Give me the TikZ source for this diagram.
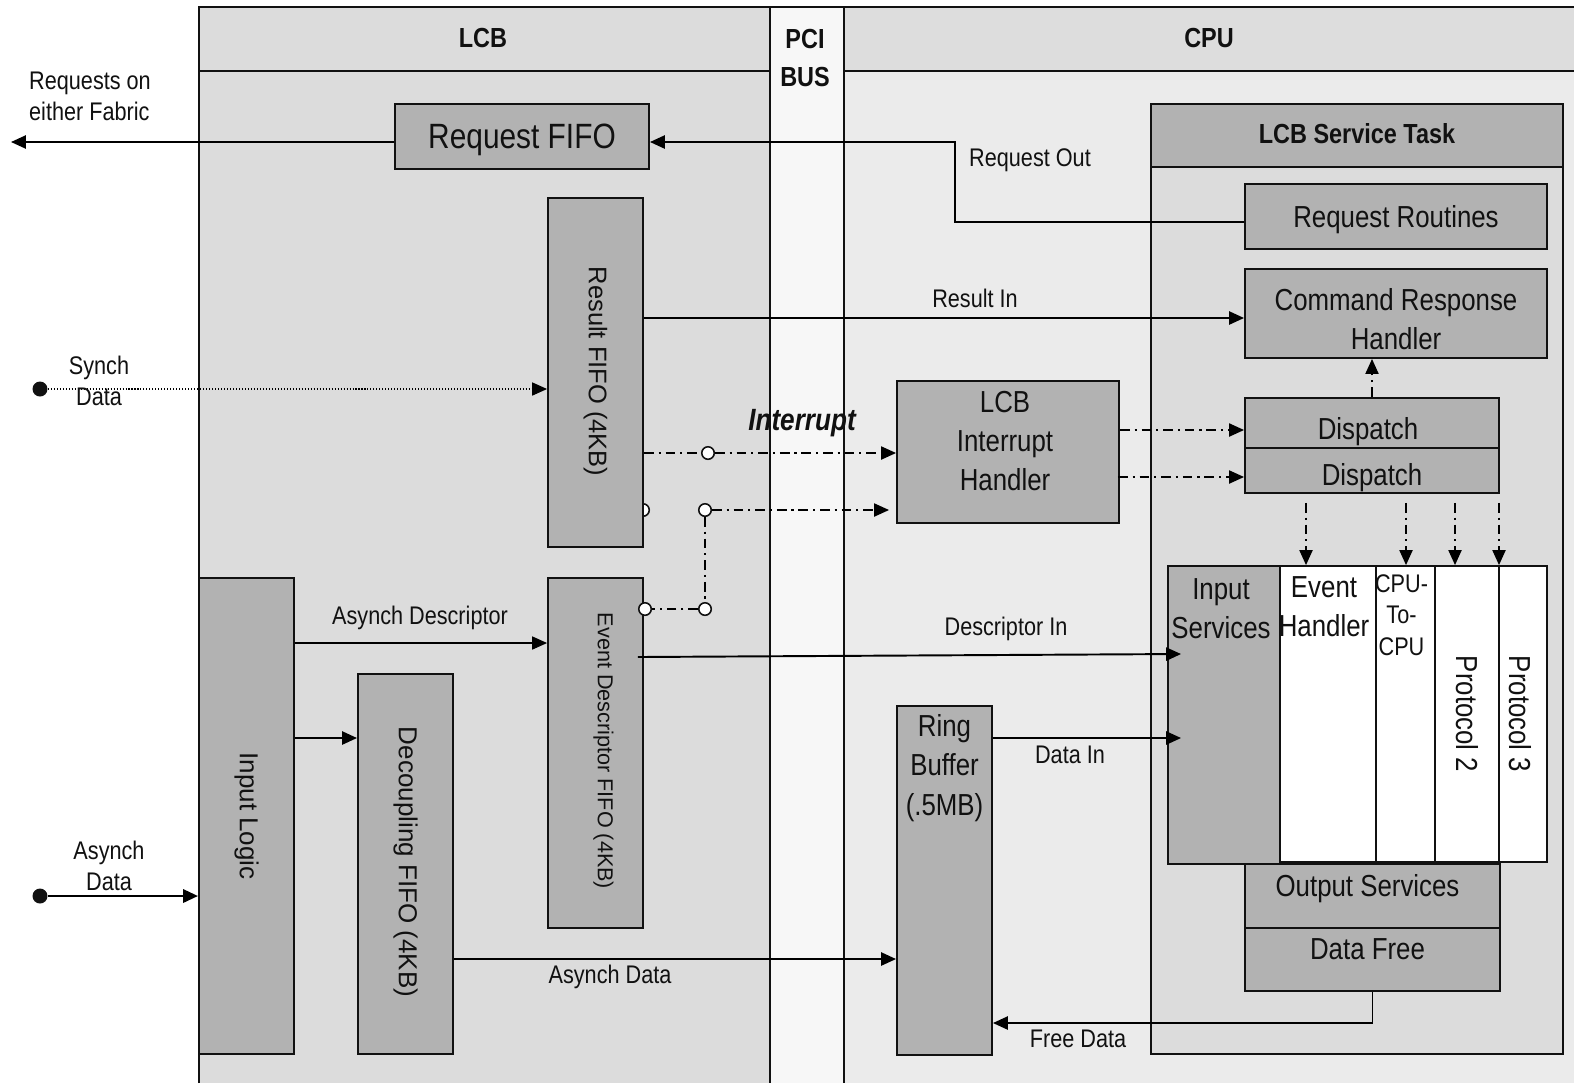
\documentclass[tikz,border=0pt]{standalone}
\usepackage{fontspec}
\setmainfont{Liberation Sans}[FakeStretch=0.85]
\newfontfamily\widefont{Liberation Sans}
\usetikzlibrary{arrows.meta,fit,calc}
\definecolor{boxgray}{HTML}{B2B2B2}
\definecolor{lcbfill}{HTML}{DCDCDC}
\definecolor{hdrfill}{HTML}{DDDDDD}
\definecolor{cpufill}{HTML}{EBEBEB}
\definecolor{pcifill}{HTML}{F7F7F7}
\definecolor{inkc}{HTML}{111111}
\begin{document}
\begin{tikzpicture}[x=0.02cm,y=-0.02cm,
  gbox/.style={draw=inkc, line width=1.1pt, fill=boxgray, inner sep=0pt},
  wbox/.style={draw=inkc, line width=1.1pt, fill=white, inner sep=0pt},
  tip/.style={-{Triangle[length=8.5pt,width=7.5pt]}},
  conn/.style={line width=1.1pt, tip},
  thinconn/.style={line width=0.6pt, tip},
  ddot/.style={line width=0.8pt, dash pattern=on 5.5pt off 2.8pt on 1.2pt off 2.8pt},
  dotline/.style={line width=0.6pt, dash pattern=on 0.6pt off 1.1pt},
  lbl/.style={font=\fontsize{14.5}{17.8}\selectfont, inner sep=0pt, align=center, text=inkc},
  btxt/.style={font=\fontsize{17.3}{22.3}\selectfont, inner sep=0pt, align=center, text=inkc},
  hdr/.style={font=\bfseries\fontsize{15.7}{21.5}\selectfont, inner sep=0pt, align=center, text=inkc},
  vtxt/.style={rotate=-90, inner sep=0pt, text=inkc},
  hole/.style={circle, draw=inkc, fill=white, line width=0.9pt, minimum size=0.25cm, inner sep=0pt},
  dotn/.style={circle, fill=inkc, minimum size=0.3cm, inner sep=0pt},
  frame/.style={line width=0.8pt, draw=inkc}
]
\useasboundingbox (0,0) rectangle (1574,1083);
\fill[white] (0,0) rectangle (1574,1083);
% columns
\fill[lcbfill] (199,7) rectangle (770,1083);
\fill[pcifill] (770,7) rectangle (844,1083);
\fill[cpufill] (844,7) rectangle (1574,1083);
\fill[hdrfill] (844,7) rectangle (1574,71);
\draw[frame] (199,1083) -- (199,7) -- (1574,7);
\draw[frame] (770,7) -- (770,1083);
\draw[frame] (844,7) -- (844,1083);
\draw[frame] (199,71) -- (770,71);
\draw[frame] (844,71) -- (1574,71);
\node[hdr] (hlcb) at (483,38) {LCB};
\node[hdr] (hpci) at (805,58) {PCI\\BUS};
\node[hdr] (hcpu) at (1209,38) {CPU};

% LCB Service Task
\node[draw=inkc, line width=1.1pt, fill=lcbfill, inner sep=0pt, fit={(1151,104) (1563,1054)}] (lst) {};
\node[draw=inkc, line width=1.1pt, fill=boxgray, inner sep=0pt, fit={(1151,104) (1563,167)}] (lsthdr) {};
\node[hdr] (lsttxt) at ($(lsthdr.center)+(0,-2)$) {LCB Service Task};

% outside labels
\node[lbl, align=left] (fabtxt) at (90,96) {Requests on\\either Fabric};

% LCB side boxes
\node[gbox, fit={(395,104) (649,169)}] (reqfifo) {};
\node[font=\fontsize{20}{24}\selectfont, inner sep=0pt, text=inkc] (reqfifotxt) at ($(reqfifo.center)+(0,3)$) {Request FIFO};

\node[hole] (h2) at (643,510) {};
\node[gbox, fit={(548,198) (643,547)}] (resfifo) {};
\node[vtxt, font=\widefont\fontsize{14.5}{17}\selectfont] (resfifotxt) at ($(resfifo.center)+(0,-1)$) {Result FIFO (4KB)};

\node[gbox, fit={(199,578) (294,1054)}] (inlogic) {};
\node[vtxt, font=\widefont\fontsize{14.8}{17}\selectfont] (inlogictxt) at (inlogic.center) {Input Logic};

\node[gbox, fit={(358,674) (453,1054)}] (decfifo) {};
\node[vtxt, font=\widefont\fontsize{14.8}{17}\selectfont] (decfifotxt) at ($(decfifo.center)+(0,-2)$) {Decoupling FIFO (4KB)};

\node[gbox, fit={(548,578) (643,928)}] (evfifo) {};
\node[vtxt, font=\widefont\fontsize{12.3}{15}\selectfont] (evfifotxt) at ($(evfifo.center)+(8,-2)$) {Event Descriptor FIFO (4KB)};

% CPU side boxes
\node[gbox, fit={(897,381) (1119,523)}] (ih) {};
\node[btxt] (ihtxt) at ($(ih.center)+(-3,-11)$) {LCB\\Interrupt\\Handler};

\node[gbox, fit={(897,706) (992,1055)}] (ring) {};
\node[btxt] (ringtxt) at ($(ring.north)+(0,63)$) {Ring\\Buffer\\(.5MB)};

\node[gbox, fit={(1245,184) (1547,249)}] (rr) {};
\node[btxt] (rrtxt) at ($(rr.center)+(0,3)$) {Request Routines};

\node[gbox, fit={(1245,269) (1547,358)}] (crh) {};
\node[btxt] (crhtxt) at ($(crh.center)+(0,6)$) {Command Response\\Handler};

\node[gbox, fit={(1245,398) (1499,448)}] (disp1) {};
\node[btxt] (disp1txt) at ($(disp1.center)+(-4,9)$) {Dispatch};
\node[gbox, fit={(1245,448) (1499,493)}] (disp2) {};
\node[btxt] (disp2txt) at ($(disp2.center)+(0,7)$) {Dispatch};

\node[gbox, fit={(1168,566) (1280,864)}] (insvc) {};
\node[btxt] (insvctxt) at ($(insvc.north)+(-3,44)$) {Input\\Services};
\node[wbox, fit={(1280,566) (1376,862)}] (evh) {};
\node[btxt] (evhtxt) at ($(evh.north)+(-4,42)$) {Event\\Handler};
\node[wbox, fit={(1376,566) (1435,862)}] (c2c) {};
\node[lbl, font=\fontsize{14.5}{18.1}\selectfont] (c2ctxt) at ($(c2c.north)+(-4,50)$) {CPU-\\To-\\CPU};
\node[wbox, fit={(1435,566) (1499,862)}] (p2) {};
\node[vtxt, font=\fontsize{17.3}{20}\selectfont] (p2txt) at ($(p2.north)+(0,149)$) {Protocol 2};
\node[wbox, fit={(1499,566) (1547,862)}] (p3) {};
\node[vtxt, font=\fontsize{17.3}{20}\selectfont] (p3txt) at ($(p3.north)+(-3,149)$) {Protocol 3};

\node[gbox, fit={(1245,864) (1500,928)}] (outsvc) {};
\node[btxt] (outsvctxt) at ($(outsvc.north)+(-5,26)$) {Output Services};
\node[gbox, fit={(1245,928) (1500,991)}] (datafree) {};
\node[btxt] (datafreetxt) at ($(datafree.north)+(-5,22)$) {Data Free};

% connectors
\coordinate (fabric) at (11,142);
\draw[conn] (reqfifo.west |- fabric) -- (fabric);

\coordinate (ro) at (955,142);
\draw[conn] ([yshift=-0.11cm]rr.west) -| (ro) -- (reqfifo.east |- ro);
\node[lbl] (rotxt) at (1030,160) {Request Out};

\coordinate (ri) at ([yshift=-0.09cm]crh.west);
\draw[conn] (resfifo.east |- ri) -- (ri);
\node[lbl] (ritxt) at (975,298) {Result In};

\node[dotn] (sdot) at (40,389) {};
\draw[dotline, tip] (sdot) -- (resfifo.west |- sdot);
\node[lbl] (synchtxt) at (99,381) {Synch\\Data};

\node[hole] (h1) at (708,453) {};
\draw[ddot] (resfifo.east |- h1) -- (h1);
\draw[ddot, tip] (h1) -- (ih.west |- h1);
\node[font=\bfseries\itshape\fontsize{17.5}{20}\selectfont, inner sep=0pt, text=inkc] (inttxt) at (802,423) {Interrupt};

\node[hole] (h3) at (705,510) {};
\node[hole] (h4) at (705,609) {};
\draw[ddot, tip] (h3) -- ($(ih.west |- h3)+(-7,0)$);
\draw[ddot] (h3) -- (h4);
\node[hole] (h5) at (645,609) {};
\draw[ddot] (h4) -- (h5);

\coordinate (d1) at ([yshift=-0.14cm]disp1.west);
\draw[ddot, tip] (ih.east |- d1) -- (d1);
\coordinate (d2) at ([yshift=-0.13cm]disp2.west);
\draw[ddot, tip] ($(ih.east |- d2)+(-2,0)$) -- (d2);

\draw[ddot, tip] (disp1.north) -- (disp1.north |- crh.south);

\foreach \xx in {1306,1406,1455,1499}
  \draw[ddot, tip] ($(disp2.south -| \xx,0)+(0,9)$) -- (evh.north -| \xx,0);

\coordinate (adr) at (420,643);
\draw[thinconn] (inlogic.east |- adr) -- (evfifo.west |- adr);
\node[lbl] (adtxt) at (420,618) {Asynch Descriptor};

\draw[conn] (inlogic.east |- 0,738) -- (decfifo.west |- 0,738);

\node[dotn] (adot) at (40,896) {};
\draw[conn, line width=1.6pt] (adot) -- (inlogic.west |- adot);
\node[lbl] (asynchtxt) at (109,866) {Asynch\\Data};

\draw[conn] (decfifo.east |- 0,959) -- (ring.west |- 0,959);
\node[lbl] (asdtxt) at (610,977) {Asynch Data};

\draw[conn] ($(evfifo.east |- 0,657)+(-6,0)$) -- ($(insvc.west |- 0,654)+(14,0)$);
\node[lbl] (ditxt) at (1006,629) {Descriptor In};

\draw[conn] (ring.east |- 0,738) -- ($(insvc.west |- 0,738)+(14,0)$);
\node[lbl] (dintxt) at (1070,755) {Data In};

\draw[conn] (datafree.south) |- (ring.east |- 0,1023);
\node[lbl] (fdtxt) at (1078,1039) {Free Data};
\end{tikzpicture}
\end{document}
